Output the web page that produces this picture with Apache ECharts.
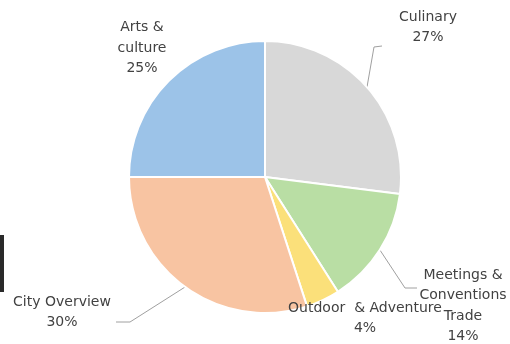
<!DOCTYPE html>
<html>
<head>
<meta charset="utf-8">
<script src="https://cdn.jsdelivr.net/npm/echarts@6/dist/echarts.min.js"></script>
<style>html,body{margin:0;padding:0;background:#fff}#c{width:510px;height:344px}</style>
</head>
<body>
<div id="c"></div>
<script>
// Data
var categories = ['Culinary', 'Meetings & Conventions Trade', 'Outdoor & Adventure', 'City Overview', 'Arts & culture'];
var labelTexts = ['Culinary', 'Meetings &\nConventions\nTrade', 'Outdoor  & Adventure', 'City Overview', 'Arts &\nculture'];
var values = [27, 14, 4, 30, 25];
var colors = ['#d8d8d8', '#b9dea4', '#fbe07a', '#f8c4a2', '#9cc3e8'];
var showLine = [true, true, false, true, false];

// Layout (label centres and leader-line bends)
var labelPos = [[428, 27.5], [463, 306], [365, 318.5], [62, 312.5], [142, 48]];
var linePts = [
  [[374, 47], [382, 46]],
  [[405, 288], [417, 288]],
  null,
  [[130, 322], [116, 322]],
  null
];

var chart = echarts.init(document.getElementById('c'));
chart.setOption({
  backgroundColor: '#fff',
  animation: false,
  graphic: [{type: 'rect', shape: {x: 0, y: 235, width: 4, height: 57}, style: {fill: '#2a2a2a'}}],
  series: [{
    type: 'pie',
    center: [265, 177],
    radius: 136,
    startAngle: 90,
    clockwise: true,
    avoidLabelOverlap: false,
    itemStyle: {borderColor: '#fff', borderWidth: 2},
    label: {
      show: true,
      position: 'outside',
      fontFamily: 'DejaVu Sans',
      fontSize: 14,
      lineHeight: 20.5,
      color: '#424242',
      align: 'center',
      formatter: function (p) { return labelTexts[p.dataIndex] + '\n' + p.value + '%'; }
    },
    labelLine: {show: true, lineStyle: {color: '#a0a0a0', width: 1}, smooth: false},
    emphasis: {disabled: true},
    labelLayout: function (p) {
      var i = p.dataIndex;
      var res = {x: labelPos[i][0], y: labelPos[i][1], align: 'center', verticalAlign: 'middle'};
      if (linePts[i] && p.labelLinePoints) {
        res.labelLinePoints = [p.labelLinePoints[0], linePts[i][0], linePts[i][1]];
      }
      return res;
    },
    data: categories.map(function (n, i) {
      return {name: n, value: values[i], itemStyle: {color: colors[i]}, labelLine: {show: showLine[i]}};
    })
  }]
});
</script>
</body>
</html>
